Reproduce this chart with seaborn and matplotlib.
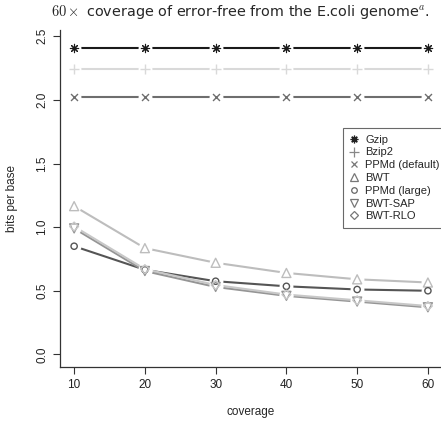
import numpy as np
import pandas as pd
import matplotlib
matplotlib.use('Agg')
import matplotlib.pyplot as plt
from matplotlib.lines import Line2D
import seaborn as sns

sns.set_style('ticks')
plt.rcParams['font.family'] = ['Liberation Sans', 'DejaVu Sans']
plt.rcParams['mathtext.fontset'] = 'cm'

# 数据：覆盖度与每个碱基的比特数
coverage = [10, 20, 30, 40, 50, 60]
gzip = [2.41, 2.41, 2.41, 2.41, 2.41, 2.41]
bzip2 = [2.24, 2.24, 2.24, 2.24, 2.24, 2.24]
ppmd_default = [2.02, 2.02, 2.02, 2.02, 2.02, 2.02]
bwt = [1.165, 0.835, 0.72, 0.64, 0.59, 0.565]
ppmd_large = [0.85, 0.665, 0.575, 0.535, 0.51, 0.50]
bwt_sap = [0.99, 0.655, 0.53, 0.46, 0.415, 0.37]
bwt_rlo = [1.005, 0.67, 0.545, 0.47, 0.425, 0.38]

names = ['Gzip', 'Bzip2', 'PPMd (default)', 'BWT', 'PPMd (large)', 'BWT-SAP', 'BWT-RLO']
series = [gzip, bzip2, ppmd_default, bwt, ppmd_large, bwt_sap, bwt_rlo]
colors = ['#1a1a1a', '#d9d9d9', '#6e6e6e', '#bdbdbd', '#555555', '#959595', '#c8c8c8']
markers = [(8, 2, 0), '+', 'x', '^', 'o', 'v', 'D']
msizes = [6, 7, 5, 6.5, 4.5, 6.5, 4.5]
hollow = ['^', 'o', 'v', 'D']

df = pd.DataFrame({'coverage': coverage * len(names),
                   'bits': np.concatenate(series),
                   'method': np.repeat(names, len(coverage))})

fig = plt.figure(figsize=(4.41, 4.21), dpi=100)
ax = fig.add_axes([0.136, 0.128, 0.864, 0.801])

for name, c in zip(names, colors):
    d = df[df['method'] == name]
    # 线条
    sns.lineplot(data=d, x='coverage', y='bits', color=c, lw=1.5, ax=ax, zorder=2)
    # 点周围留白（模仿R的type="b"）
    ax.plot(d['coverage'], d['bits'], ls='none', marker='o', ms=10, mfc='white',
            mec='none', zorder=3)
for name, c, m, ms in zip(names, colors, markers, msizes):
    d = df[df['method'] == name]
    sns.scatterplot(data=d, x='coverage', y='bits', marker=m, s=ms ** 2,
                    facecolor='none' if m in hollow else c,
                    edgecolor=c, linewidth=0.8 if name == 'Gzip' else 1.0, ax=ax, zorder=4)

ax.set_xlim(8, 61.85)
ax.set_ylim(-0.1, 2.55)
ax.set_xticks(coverage)
ax.set_yticks([0.0, 0.5, 1.0, 1.5, 2.0, 2.5])
ax.set_yticklabels(['0.0', '0.5', '1.0', '1.5', '2.0', '2.5'], rotation=90, va='center')
ax.tick_params(labelsize=8.5, length=5, width=0.8, color='#333333', labelcolor='#222222')
for s in ['left', 'bottom']:
    ax.spines[s].set_color('#333333')
    ax.spines[s].set_linewidth(0.9)
sns.despine(ax=ax)
ax.set_xlabel('coverage', fontsize=8.5, labelpad=11)
ax.set_ylabel('bits per base', fontsize=8.5, labelpad=13)

handles = [Line2D([], [], ls='none', marker=m, color=c, ms=ms - 0.5,
                  mfc='none' if m in hollow else c, mec=c, mew=0.9)
           for c, m, ms in zip(['#222222', '#888888', '#777777', '#777777', '#666666',
                                '#777777', '#777777'], markers, msizes)]
leg = ax.legend(handles, names, loc='upper left', bbox_to_anchor=(0.778, 0.696),
                bbox_transform=fig.transFigure, fontsize=8, frameon=True, fancybox=False,
                handlelength=0.8, handletextpad=0.6, labelspacing=0.25, borderpad=0.6,
                borderaxespad=0)
leg.get_frame().set_edgecolor('#444444')
leg.get_frame().set_linewidth(0.8)

fig.text(0.545, 0.972, r'$60\times$ coverage of error-free from the E.coli genome$^{a}$.',
         ha='center', va='center', fontsize=10.4, family=['DejaVu Sans'])

fig.savefig('out.png', dpi=100)
